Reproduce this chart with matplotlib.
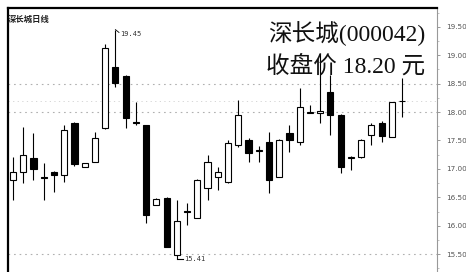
import matplotlib
matplotlib.use("Agg")
import matplotlib.pyplot as plt
from matplotlib.patches import Rectangle
import numpy as np

# ---- data ----
opens  = [16.81, 16.95, 17.19, 16.86, 16.95, 16.89, 17.81, 17.04, 17.12, 17.72,
          18.80, 18.64, 17.82, 17.77, 16.37, 16.49, 15.49, 16.26, 16.14, 16.67,
          16.86, 16.77, 17.42, 17.51, 17.31, 17.48, 16.86, 17.63, 17.48, 17.99,
          17.99, 18.36, 17.95, 17.20, 17.21, 17.60, 17.81, 17.56, 18.19]
highs  = [17.21, 17.74, 17.63, 17.11, 16.96, 17.77, 17.83, 17.11, 17.65, 19.20,
          19.45, 18.66, 18.18, 17.78, 16.48, 16.50, 16.45, 16.40, 16.82, 17.25,
          17.04, 17.50, 18.21, 17.55, 17.40, 17.65, 17.52, 17.77, 18.43, 18.13,
          19.04, 18.65, 17.96, 17.22, 17.52, 17.81, 17.84, 18.18, 18.60]
lows   = [16.45, 16.75, 16.81, 16.45, 16.60, 16.77, 17.05, 17.03, 17.12, 17.70,
          18.44, 17.72, 17.77, 16.05, 16.36, 15.62, 15.41, 16.01, 16.13, 16.45,
          16.63, 16.75, 17.39, 17.12, 17.12, 16.58, 16.85, 17.30, 17.42, 17.98,
          17.81, 17.60, 16.93, 16.98, 17.20, 17.42, 17.48, 17.56, 17.92]
closes = [16.95, 17.25, 17.00, 16.84, 16.89, 17.69, 17.09, 17.11, 17.55, 19.13,
          18.51, 17.90, 17.81, 16.19, 16.47, 15.63, 16.08, 16.24, 16.81, 17.12,
          16.95, 17.46, 17.95, 17.28, 17.33, 16.81, 17.51, 17.51, 18.09, 18.00,
          18.01, 17.95, 17.04, 17.21, 17.51, 17.77, 17.58, 18.18, 18.20]

ytick_values = [15.5, 16.0, 16.5, 17.0, 17.5, 18.0, 18.5, 19.0, 19.5]
ytick_labels = ["15.50", "16.00", "16.50", "17.00", "17.50", "18.00", "18.50", "19.00", "19.50"]
grid_levels = [15.5, 18.0, 18.5]

title_small = "深长城日线"
title_line1 = "深长城(000042)"
title_line2 = "收盘价 18.20 元"
high_label = "19.45"
low_label = "15.41"

# ---- figure ----
fig = plt.figure(figsize=(4.66, 2.72), dpi=100)
fig.patch.set_facecolor("white")
ax = fig.add_axes([8/466, 0.0, (437-8)/466, 1 - 8/272])
ax.set_xlim(-0.49, 41.41)
ax.set_ylim(15.187, 19.83)

for g in grid_levels:
    ax.axhline(g, color="#b0b0b0", lw=0.8, ls=(0, (1.5, 3.5)), zorder=0)
ax.axhline(18.2, color="#d0d0d0", lw=0.6, ls=(0, (1.5, 4)), zorder=0)

w = 0.6
for i, (o, h, l, c) in enumerate(zip(opens, highs, lows, closes)):
    top, bot = max(o, c), min(o, c)
    up = c >= o
    ax.plot([i, i], [bot, l], color="black", lw=0.8, solid_capstyle="butt", zorder=2)
    ax.plot([i, i], [top, h], color="black", lw=0.8, solid_capstyle="butt", zorder=2)
    hgt = max(top - bot, 0.012)
    ax.add_patch(Rectangle((i - w/2, bot), w, hgt,
                           facecolor="white" if up else "black",
                           edgecolor="black", lw=0.8, zorder=3))

# high / low annotations
ih = int(np.argmax(highs))
il = int(np.argmin(lows))
ax.plot([ih, ih + 0.35], [highs[ih], highs[ih] - 0.05], color="black", lw=0.6)
ax.text(ih + 0.45, highs[ih] - 0.07, high_label, fontsize=5, color="#333333",
        va="center", ha="left", family="DejaVu Sans Mono")
ax.plot([il, il + 0.6], [lows[il], lows[il]], color="black", lw=0.8)
ax.text(il + 0.7, lows[il], low_label, fontsize=5, color="#333333",
        va="center", ha="left", family="DejaVu Sans Mono")

# spines & axis
ax.spines["bottom"].set_visible(False)
ax.spines["left"].set_color("black")
ax.spines["left"].set_linewidth(1.6)
ax.spines["top"].set_color("black")
ax.spines["top"].set_linewidth(1.6)
ax.spines["right"].set_color("#999999")
ax.spines["right"].set_linewidth(0.8)
ax.set_xticks([])
ax.yaxis.tick_right()
ax.set_yticks(ytick_values)
ax.set_yticklabels(ytick_labels)
ax.set_yticks(np.arange(15.25, 19.8, 0.5), minor=True)
ax.tick_params(axis="y", which="major", length=2.5, width=0.6, color="#888888",
               labelsize=5.2, labelcolor="#555555", pad=4, direction="out")
ax.tick_params(axis="y", which="minor", length=1.5, width=0.5, color="#aaaaaa",
               direction="out")

# texts
ax.text(0.0, 0.975, title_small, transform=ax.transAxes, fontsize=6,
        family=["Noto Sans CJK SC"], ha="left", va="top", color="#222222",
        fontweight="bold")
fig.text(425/466, 1 - 34/272, title_line1, fontsize=17, ha="right", va="center",
         family=["Liberation Serif", "Noto Sans CJK SC"], color="#111111")
fig.text(425/466, 1 - 66/272, title_line2, fontsize=17, ha="right", va="center",
         family=["Liberation Serif", "Noto Sans CJK SC"], color="#111111")

fig.savefig("out.png", dpi=100, facecolor="white")
